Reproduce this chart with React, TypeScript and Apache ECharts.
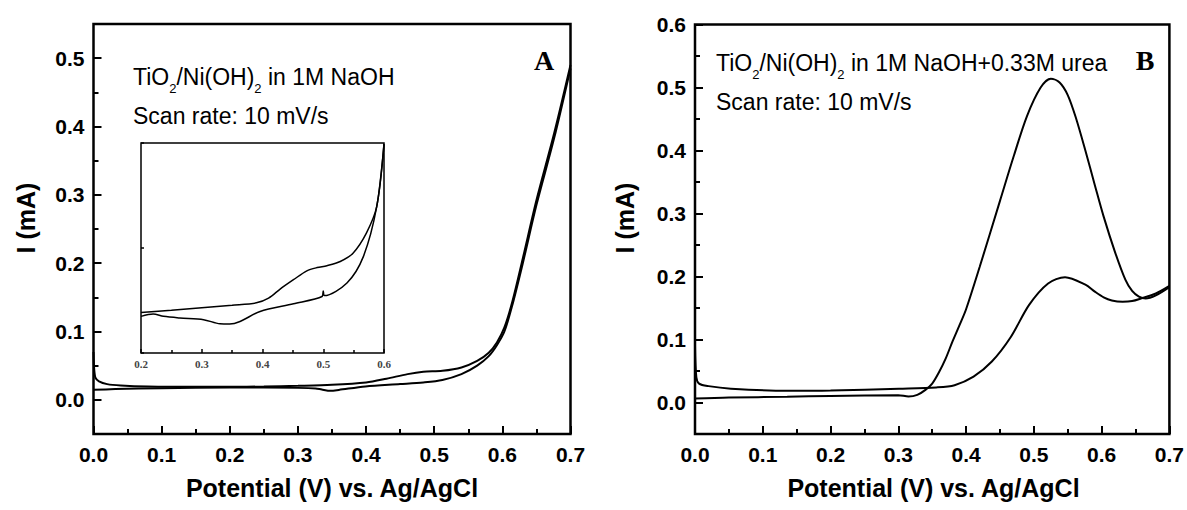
import React, { useEffect, useRef } from "react";
import * as echarts from "echarts";

// ---------- Panel A (1M NaOH) ----------
const aFwdX = [0, 0.001, 0.003, 0.008, 0.02, 0.04, 0.08, 0.15, 0.2, 0.25, 0.3, 0.35, 0.4, 0.43, 0.461, 0.484, 0.512, 0.54, 0.563, 0.58, 0.592, 0.603, 0.615, 0.63, 0.65, 0.676, 0.7];
const aFwdY = [0.07, 0.045, 0.032, 0.027, 0.023, 0.021, 0.0195, 0.019, 0.019, 0.0195, 0.0205, 0.022, 0.0255, 0.031, 0.0376, 0.041, 0.0425, 0.0474, 0.057, 0.069, 0.084, 0.106, 0.145, 0.207, 0.292, 0.39, 0.49];
const aRevX = [0.7, 0.676, 0.65, 0.63, 0.615, 0.603, 0.592, 0.58, 0.563, 0.54, 0.512, 0.484, 0.45, 0.399, 0.36, 0.348, 0.335, 0.326, 0.3, 0.2, 0.1, 0.032, 0];
const aRevY = [0.485, 0.383, 0.285, 0.2, 0.14, 0.1, 0.08, 0.064, 0.05, 0.0376, 0.029, 0.0254, 0.023, 0.0196, 0.0145, 0.0132, 0.015, 0.0167, 0.0175, 0.018, 0.017, 0.0157, 0.0146];

// ---------- Inset of panel A (0.2 – 0.6 V) ----------
const inFwdX = [0.2, 0.25, 0.3, 0.35, 0.39, 0.41, 0.429, 0.451, 0.473, 0.49, 0.506, 0.528, 0.549, 0.571, 0.588, 0.6];
const inFwdY = [0.0174, 0.0183, 0.0194, 0.0205, 0.0215, 0.0235, 0.0274, 0.0314, 0.0352, 0.0366, 0.0374, 0.0392, 0.0428, 0.0514, 0.0627, 0.0895];
const inRevX = [0.6, 0.588, 0.566, 0.539, 0.502, 0.5, 0.498, 0.451, 0.396, 0.363, 0.346, 0.33, 0.303, 0.264, 0.237, 0.22, 0.2];
const inRevY = [0.0895, 0.0627, 0.0413, 0.03, 0.0246, 0.0266, 0.0242, 0.0211, 0.0178, 0.0135, 0.0124, 0.0125, 0.0143, 0.015, 0.0157, 0.0167, 0.0157];

// ---------- Panel B (1M NaOH + 0.33M urea) ----------
const bLowPeakX = [0, 0.002, 0.006, 0.02, 0.053, 0.136, 0.2, 0.301, 0.356, 0.383, 0.411, 0.438, 0.466, 0.493, 0.521, 0.546, 0.576, 0.59, 0.603, 0.615, 0.631, 0.645, 0.658, 0.68, 0.7];
const bLowPeakY = [0.09, 0.04, 0.03, 0.026, 0.022, 0.0185, 0.019, 0.022, 0.024, 0.0275, 0.041, 0.065, 0.104, 0.155, 0.189, 0.199, 0.187, 0.176, 0.167, 0.162, 0.16, 0.161, 0.165, 0.173, 0.185];
const bHighPeakX = [0, 0.05, 0.136, 0.2, 0.3, 0.315, 0.328, 0.34, 0.35, 0.36, 0.37, 0.38, 0.39, 0.4, 0.42, 0.45, 0.47, 0.49, 0.51, 0.525, 0.538, 0.55, 0.562, 0.576, 0.59, 0.603, 0.62, 0.635, 0.645, 0.655, 0.665, 0.68, 0.7];
const bHighPeakY = [0.0064, 0.008, 0.009, 0.0105, 0.0116, 0.0095, 0.012, 0.02, 0.03, 0.048, 0.07, 0.097, 0.122, 0.148, 0.215, 0.32, 0.39, 0.455, 0.5, 0.514, 0.508, 0.488, 0.452, 0.4, 0.345, 0.295, 0.238, 0.195, 0.177, 0.168, 0.165, 0.17, 0.183];

// ---------- Tick values ----------
const yMajorA = [0, 0.1, 0.2, 0.3, 0.4, 0.5];
const yMinorA = [0.05, 0.15, 0.25, 0.35, 0.45];
const yMajorB = [0, 0.1, 0.2, 0.3, 0.4, 0.5, 0.6];
const yMinorB = [0.05, 0.15, 0.25, 0.35, 0.45, 0.55];

const zip = (xs: number[], ys: number[]) => xs.map((x, i) => [x, ys[i]]);
const fmt = (v: number) => v.toFixed(1);

const SANS = '"Liberation Sans", Arial, sans-serif';
const SERIF = '"Liberation Serif", "Times New Roman", serif';

const tickLabel = {
  fontFamily: SANS,
  fontWeight: "bold" as const,
  fontSize: 21,
  color: "#000",
};

function mainX(gridIndex: number) {
  return {
    gridIndex,
    type: "value",
    min: 0,
    max: 0.7,
    interval: 0.1,
    axisLine: { show: false, onZero: false },
    axisTick: { show: true, inside: true, length: 8, lineStyle: { color: "#000", width: 2 } },
    minorTick: { show: true, splitNumber: 2, length: 5, lineStyle: { color: "#000", width: 2 } },
    axisLabel: { ...tickLabel, margin: 10, formatter: fmt },
    splitLine: { show: false },
    minorSplitLine: { show: false },
  };
}

function mainY(gridIndex: number, max: number, major: number[], minor: number[]) {
  return [
    {
      gridIndex,
      type: "value",
      min: -0.05,
      max,
      position: "left",
      axisLine: { show: false, onZero: false },
      axisTick: { show: true, inside: true, length: 8, customValues: major, lineStyle: { color: "#000", width: 2 } },
      axisLabel: { ...tickLabel, margin: 9, customValues: major, formatter: fmt },
      splitLine: { show: false },
    },
    {
      gridIndex,
      type: "value",
      min: -0.05,
      max,
      position: "left",
      axisLine: { show: false, onZero: false },
      axisTick: { show: true, inside: true, length: 5, customValues: minor, lineStyle: { color: "#000", width: 2 } },
      axisLabel: { show: false },
      splitLine: { show: false },
    },
  ];
}

function line(data: number[][], xi: number, yi: number, width = 2) {
  return {
    type: "line",
    data,
    xAxisIndex: xi,
    yAxisIndex: yi,
    showSymbol: false,
    symbol: "none",
    smooth: 0.3,
    lineStyle: { color: "#000", width },
    z: 3,
  };
}

function subText(parts: string, x: number, y: number) {
  return {
    type: "text",
    x,
    y,
    z: 10,
    style: {
      text: parts,
      verticalAlign: "top",
      align: "left",
      rich: {
        n: { fontFamily: SANS, fontSize: 23, lineHeight: 23, verticalAlign: "top", fill: "#000", color: "#000" },
        s: { fontFamily: SANS, fontSize: 13, lineHeight: 13, padding: [17, 0, 0, 0], verticalAlign: "top", fill: "#000", color: "#000" },
      },
    },
  };
}

function plainText(text: string, x: number, y: number, font: string, align = "left", rotation = 0) {
  return {
    type: "text",
    x,
    y,
    rotation,
    z: 10,
    style: { text, font, fill: "#000", align, verticalAlign: "middle" },
  };
}

export default function App() {
  const ref = useRef<HTMLDivElement>(null);
  useEffect(() => {
    if (!ref.current) return;
    const chart = echarts.init(ref.current, null, { renderer: "svg" });
    const yA = mainY(0, 0.55, yMajorA, yMinorA);
    const yB = mainY(2, 0.6, yMajorB, yMinorB);
    const option = {
      animation: false,
      backgroundColor: "#fff",
      grid: [
        { left: 93.5, top: 24, width: 477, height: 410, show: true, borderColor: "#000", borderWidth: 2.5, backgroundColor: "transparent" },
        { left: 141, top: 143, width: 243, height: 210, show: true, borderColor: "#000", borderWidth: 1.5, backgroundColor: "#fff" },
        { left: 695, top: 24.5, width: 477, height: 409.5, show: true, borderColor: "#000", borderWidth: 2.5, backgroundColor: "transparent" },
      ],
      xAxis: [
        mainX(0),
        {
          gridIndex: 1,
          type: "value",
          min: 0.2,
          max: 0.6,
          interval: 0.1,
          axisLine: { show: false, onZero: false },
          axisTick: { show: true, inside: true, length: 4, lineStyle: { color: "#000", width: 1.5 } },
          minorTick: { show: true, splitNumber: 2, length: 3, lineStyle: { color: "#000", width: 1.5 } },
          axisLabel: { fontFamily: SERIF, fontWeight: "bold", fontSize: 11, color: "#444", margin: 5, formatter: fmt },
          splitLine: { show: false },
          minorSplitLine: { show: false },
        },
        mainX(2),
      ],
      yAxis: [
        yA[0],
        yA[1],
        {
          gridIndex: 1,
          type: "value",
          min: 0,
          max: 0.09,
          interval: 0.045,
          axisLine: { show: false, onZero: false },
          axisTick: { show: true, inside: true, length: 3, lineStyle: { color: "#000", width: 1.5 } },
          axisLabel: { show: false },
          splitLine: { show: false },
        },
        yB[0],
        yB[1],
      ],
      series: [
        line(zip(aFwdX, aFwdY), 0, 0),
        line(zip(aRevX, aRevY), 0, 0),
        line(zip(inFwdX, inFwdY), 1, 2, 1.5),
        line(zip(inRevX, inRevY), 1, 2, 1.5),
        line(zip(bLowPeakX, bLowPeakY), 2, 3),
        line(zip(bHighPeakX, bHighPeakY), 2, 3),
      ],
      graphic: [
        subText("{n|TiO}{s|2}{n|/Ni(OH)}{s|2}{n| in 1M NaOH}", 133, 65),
        plainText("Scan rate: 10 mV/s", 133, 116, `23px ${SANS}`),
        plainText("A", 544, 60, `bold 28px ${SERIF}`, "center"),
        subText("{n|TiO}{s|2}{n|/Ni(OH)}{s|2}{n| in 1M NaOH+0.33M urea}", 716, 51),
        plainText("Scan rate: 10 mV/s", 716, 102, `23px ${SANS}`),
        plainText("B", 1145, 60, `bold 28px ${SERIF}`, "center"),
        plainText("Potential (V) vs. Ag/AgCl", 332, 488, `bold 25px ${SANS}`, "center"),
        plainText("Potential (V) vs. Ag/AgCl", 933.5, 488, `bold 25px ${SANS}`, "center"),
        plainText("I (mA)", 26, 218, `bold 25px ${SANS}`, "center", Math.PI / 2),
        plainText("I (mA)", 625, 218, `bold 25px ${SANS}`, "center", Math.PI / 2),
      ],
    };
    chart.setOption(option as any);
    return () => chart.dispose();
  }, []);
  return (
    <div
      ref={ref}
      style={{ position: "absolute", left: 0, top: 0, width: 1187, height: 510, background: "#fff" }}
    />
  );
}
